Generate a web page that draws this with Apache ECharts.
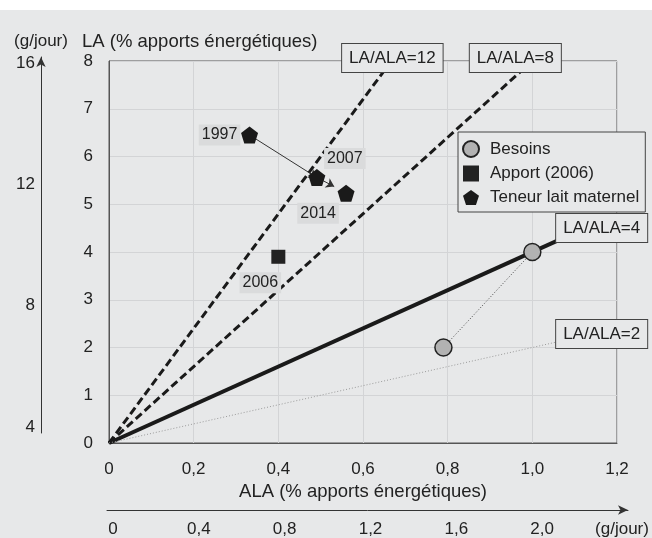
<!DOCTYPE html>
<html>
<head>
<meta charset="utf-8">
<title>LA / ALA</title>
<script src="https://cdn.jsdelivr.net/npm/echarts@6/dist/echarts.min.js"></script>
<style>
  html, body { margin: 0; padding: 0; background: #ffffff; }
  #main { width: 652px; height: 528px; margin-top: 10px; }
</style>
</head>
<body>
<div id="main"></div>
<script>
// ---- data ----
const gPerDayY = [4, 8, 12, 16];                 // outer left axis ticks (g/jour)
const gPerDayX = [0, 0.4, 0.8, 1.2, 1.6, 2.0];   // outer bottom axis ticks (g/jour)

const ratioNames = ['LA/ALA=12', 'LA/ALA=8', 'LA/ALA=4', 'LA/ALA=2'];
const ratioEnds = [[0.667, 8], [1.0, 8], [1.1, 4.4], [1.1, 2.2]];

const besoins = [[0.79, 2.0], [1.0, 4.0]];
const apport = [[0.4, 3.9]];
const apportYear = ['2006'];
const teneur = [[0.332, 6.45], [0.491, 5.56], [0.56, 5.23]];
const teneurYears = ['1997', '2007', '2014'];
const arrows = [
  [[0.332, 6.45], [0.491, 5.56]],
  [[0.5, 5.52], [0.532, 5.37]]
];

// ---- styles ----
const BG = '#e7e8e9';
const TXT = '#222';
const FONT = '"Liberation Sans", Arial, sans-serif';
const pentagon = 'path://M0,-10 L9.51,-3.09 L5.88,8.09 L-5.88,8.09 L-9.51,-3.09 Z';

const ratioStyles = [
  {type: [8, 4], width: 3, color: '#1a1a1a'},
  {type: [8, 4], width: 3, color: '#1a1a1a'},
  {type: 'solid', width: 4, color: '#1a1a1a'},
  {type: [1, 2], width: 1, color: '#9a9a9a'}
];
const ratioOffsets = [[1, -3], [-17, -3], [27, -5], [27, -4]];
const yearOffsets = [[-30, 0], [28, -19], [-28, 20]];

const fmtComma = function(v) {
  return v === 0 ? '0' : v.toFixed(1).replace('.', ',');
};

const boxLabel = {
  color: TXT, fontSize: 17, fontFamily: FONT,
  backgroundColor: BG, borderColor: '#444', borderWidth: 1,
  padding: [6, 7, 5, 7]
};

let series = [];

ratioNames.forEach((name, i) => {
  series.push({
    name: name,
    type: 'line',
    xAxisIndex: 0, yAxisIndex: 0,
    symbol: 'circle', symbolSize: 1,
    itemStyle: {color: 'transparent'},
    lineStyle: ratioStyles[i],
    z: 2,
    data: [[0, 0], {
      value: ratioEnds[i],
      label: Object.assign({show: true, position: 'inside', offset: ratioOffsets[i], formatter: name}, boxLabel)
    }]
  });
});

series.push({
  name: 'besoinsLink',
  type: 'line',
  symbol: 'none',
  lineStyle: {type: [1, 2], width: 1, color: '#444'},
  z: 3,
  data: besoins
});

series.push({
  name: 'arrows',
  type: 'lines',
  coordinateSystem: 'cartesian2d',
  xAxisIndex: 0, yAxisIndex: 0,
  symbol: ['none', 'arrow'],
  symbolSize: 8,
  lineStyle: {color: '#333', width: 1, opacity: 1},
  z: 3,
  data: arrows.map(c => ({coords: c}))
});

series.push({
  name: 'Besoins',
  type: 'scatter',
  symbol: 'circle',
  symbolSize: 17,
  itemStyle: {color: '#b2b2b2', borderColor: '#222', borderWidth: 1.5, opacity: 1},
  z: 5,
  data: besoins
});

const yearLabel = {
  color: TXT, fontSize: 16, fontFamily: FONT,
  backgroundColor: '#dadbdc', padding: [3, 3, 2, 3]
};

series.push({
  name: 'Apport (2006)',
  type: 'scatter',
  symbol: 'rect',
  symbolSize: 14,
  itemStyle: {color: '#222', opacity: 1},
  z: 5,
  data: apport.map((p, i) => ({
    value: p,
    label: Object.assign({show: true, position: 'inside', offset: [-18, 26], formatter: apportYear[i]}, yearLabel)
  }))
});

series.push({
  name: 'Teneur lait maternel',
  type: 'scatter',
  symbol: pentagon,
  symbolSize: 17,
  itemStyle: {color: '#1a1a1a', opacity: 1},
  z: 5,
  data: teneur.map((p, i) => ({
    value: p,
    label: Object.assign({show: true, position: 'inside', offset: yearOffsets[i], formatter: teneurYears[i]}, yearLabel)
  }))
});

const chart = echarts.init(document.getElementById('main'));
chart.setOption({
  animation: false,
  backgroundColor: BG,
  textStyle: {fontFamily: FONT, color: TXT},
  legend: {
    orient: 'vertical',
    left: 458, top: 122,
    data: [
      {name: 'Besoins', icon: 'circle'},
      {name: 'Apport (2006)', icon: 'rect'},
      {name: 'Teneur lait maternel', icon: pentagon}
    ],
    itemWidth: 16, itemHeight: 16, itemGap: 7,
    padding: [8, 6, 6, 4],
    backgroundColor: BG, borderColor: '#444', borderWidth: 1,
    textStyle: {fontSize: 17, color: TXT, fontFamily: FONT, padding: [0, 0, 0, 6]}
  },
  grid: [
    {left: 109, right: 35, top: 51, bottom: 95, show: true, borderColor: '#555', borderWidth: 1, backgroundColor: 'transparent'},
    {left: 41, width: 20, top: 47, bottom: 105},
    {left: 107, right: 24, top: 490, bottom: 28}
  ],
  xAxis: [
    {
      type: 'value', gridIndex: 0, min: 0, max: 1.2, interval: 0.2,
      name: 'ALA (% apports énergétiques)', nameLocation: 'middle', nameGap: 35,
      nameTextStyle: {fontSize: 18.5, color: TXT},
      axisLine: {lineStyle: {color: '#555', width: 1}},
      axisTick: {show: false},
      axisLabel: {fontSize: 17, color: TXT, margin: 18, formatter: fmtComma},
      splitLine: {lineStyle: {color: '#d3d4d6', width: 1}}
    },
    {
      type: 'value', gridIndex: 2, min: -0.028, max: 2.4,
      name: '(g/jour)', nameLocation: 'end', nameGap: -6,
      nameTextStyle: {fontSize: 17, color: TXT, align: 'center', verticalAlign: 'top', padding: [11, 0, 0, 0]},
      axisLine: {symbol: ['none', 'arrow'], symbolSize: [7, 10], lineStyle: {color: '#333', width: 1}},
      axisTick: {show: false},
      axisLabel: {fontSize: 17, color: TXT, margin: 11, customValues: gPerDayX, formatter: fmtComma},
      splitLine: {show: false}
    },
    {
      type: 'value', gridIndex: 1, min: 0, max: 1, show: false
    }
  ],
  yAxis: [
    {
      type: 'value', gridIndex: 0, min: 0, max: 8, interval: 1,
      name: 'LA (% apports énergétiques)', nameLocation: 'end', nameGap: 10,
      nameTextStyle: {fontSize: 18.5, color: TXT, align: 'left', verticalAlign: 'bottom', padding: [0, 0, 0, -27]},
      axisLine: {show: true, lineStyle: {color: '#555', width: 1}},
      axisTick: {show: false},
      axisLabel: {fontSize: 17, color: TXT, margin: 16},
      splitLine: {lineStyle: {color: '#d3d4d6', width: 1}}
    },
    {
      type: 'value', gridIndex: 1, min: 3.8, max: 16.2, position: 'left',
      name: '(g/jour)', nameLocation: 'end', nameGap: 7,
      nameTextStyle: {fontSize: 17, color: TXT, align: 'center', verticalAlign: 'bottom'},
      axisLine: {show: true, symbol: ['none', 'arrow'], symbolSize: [7, 10], lineStyle: {color: '#333', width: 1}},
      axisTick: {show: false},
      axisLabel: {fontSize: 17, color: TXT, margin: 6, customValues: gPerDayY},
      splitLine: {show: false}
    },
    {
      type: 'value', gridIndex: 2, min: 0, max: 1, show: false
    }
  ],
  series: series
});
</script>
</body>
</html>
